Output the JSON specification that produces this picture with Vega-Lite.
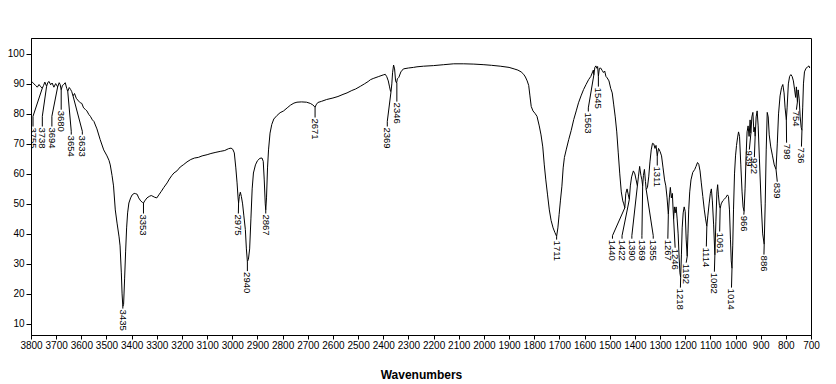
{
"$schema": "https://vega.github.io/schema/vega-lite/v6.json",
"autosize": {"type": "none"},
"width": 780, "height": 297,
"padding": {"left": 31, "top": 38, "right": 25, "bottom": 49},
"background": "white",
"config": {"view": {"stroke": "black", "strokeWidth": 1},
 "axis": {"grid": false, "labelFont": "Liberation Sans", "labelFontSize": 10, "labelColor": "black", "labelFlush": false, "labelOverlap": false, "tickColor": "black", "domainColor": "black", "format": "d"},
 "axisX": {"labelPadding": 1, "tickSize": 4, "titleFont": "Liberation Sans", "titleFontSize": 12, "titleFontWeight": "bold", "titleColor": "black", "titlePadding": 19},
 "axisY": {"labelPadding": 2, "tickSize": 5}},
"datasets": {
"spectrum": [
{"w":3800,"t":90.3},{"w":3795,"t":90.6},{"w":3788,"t":90},{"w":3782,"t":89.5},{"w":3775,"t":88.9},{"w":3768,"t":89.8},{"w":3762,"t":89.1},{"w":3755,"t":88.6},{"w":3750,"t":89.5},{"w":3745,"t":90.6},{"w":3738,"t":89.2},{"w":3733,"t":90.5},{"w":3728,"t":90.8},{"w":3722,"t":89.7},{"w":3716,"t":90.3},{"w":3709,"t":88.9},{"w":3702,"t":90.1},{"w":3694,"t":89},{"w":3688,"t":90.4},{"w":3684,"t":89.8},{"w":3680,"t":88},{"w":3675,"t":89.5},{"w":3670,"t":89.8},{"w":3664,"t":90.4},{"w":3658,"t":88.5},{"w":3654,"t":87.5},{"w":3648,"t":88.8},{"w":3643,"t":88.2},{"w":3638,"t":87.4},{"w":3633,"t":86},{"w":3627,"t":86.8},{"w":3620,"t":85.2},{"w":3611,"t":84.3},{"w":3604,"t":83.7},{"w":3598,"t":83.5},{"w":3591,"t":82},{"w":3584,"t":81.5},{"w":3578,"t":81},{"w":3570,"t":79.8},{"w":3564,"t":79.2},{"w":3556,"t":78},{"w":3550,"t":77.5},{"w":3538,"t":75},{"w":3525,"t":71.4},{"w":3511,"t":68},{"w":3498,"t":66},{"w":3490,"t":64.5},{"w":3485,"t":63},{"w":3478,"t":59.5},{"w":3472,"t":56},{"w":3465,"t":48},{"w":3458,"t":43.6},{"w":3450,"t":39},{"w":3446,"t":36},{"w":3441,"t":27},{"w":3438,"t":20},{"w":3435,"t":15.8},{"w":3432,"t":16.5},{"w":3428,"t":25},{"w":3424,"t":34},{"w":3420,"t":42},{"w":3416,"t":47},{"w":3411,"t":50.3},{"w":3404,"t":52},{"w":3398,"t":53},{"w":3390,"t":53.5},{"w":3384,"t":53.4},{"w":3378,"t":53.2},{"w":3372,"t":52},{"w":3364,"t":51},{"w":3357,"t":50.5},{"w":3353,"t":50.3},{"w":3348,"t":51},{"w":3339,"t":52},{"w":3330,"t":52.5},{"w":3322,"t":52.8},{"w":3315,"t":52.5},{"w":3308,"t":52.2},{"w":3300,"t":52},{"w":3292,"t":53},{"w":3282,"t":54.2},{"w":3272,"t":55.5},{"w":3259,"t":57},{"w":3250,"t":58.3},{"w":3240,"t":59.5},{"w":3232,"t":60.3},{"w":3220,"t":61},{"w":3207,"t":62.3},{"w":3195,"t":63},{"w":3180,"t":64},{"w":3165,"t":64.8},{"w":3150,"t":65.3},{"w":3135,"t":65.5},{"w":3120,"t":66},{"w":3100,"t":66.4},{"w":3085,"t":66.8},{"w":3065,"t":67.2},{"w":3048,"t":67.5},{"w":3030,"t":67.8},{"w":3015,"t":68.4},{"w":3005,"t":68.6},{"w":2998,"t":68.2},{"w":2992,"t":67},{"w":2986,"t":62},{"w":2981,"t":57},{"w":2977,"t":52},{"w":2975,"t":50.3},{"w":2972,"t":52.5},{"w":2968,"t":53.9},{"w":2964,"t":52.5},{"w":2959,"t":50},{"w":2954,"t":46},{"w":2948,"t":41.4},{"w":2944,"t":35},{"w":2940,"t":30.8},{"w":2936,"t":31.5},{"w":2931,"t":35},{"w":2926,"t":45},{"w":2921,"t":55},{"w":2916,"t":60.3},{"w":2908,"t":63},{"w":2900,"t":64.4},{"w":2890,"t":65.2},{"w":2882,"t":65.3},{"w":2877,"t":64.2},{"w":2873,"t":58},{"w":2869,"t":50},{"w":2867,"t":48},{"w":2864,"t":52},{"w":2860,"t":62},{"w":2856,"t":68},{"w":2850,"t":73.6},{"w":2843,"t":76.5},{"w":2835,"t":78.3},{"w":2822,"t":79.5},{"w":2810,"t":80.4},{"w":2796,"t":81},{"w":2782,"t":82},{"w":2769,"t":82.9},{"w":2755,"t":83.6},{"w":2743,"t":83.9},{"w":2725,"t":84},{"w":2705,"t":83.9},{"w":2690,"t":83.5},{"w":2680,"t":83},{"w":2675,"t":82.6},{"w":2671,"t":82.2},{"w":2667,"t":83},{"w":2660,"t":83.8},{"w":2645,"t":84.2},{"w":2625,"t":84.8},{"w":2600,"t":85.3},{"w":2580,"t":85.8},{"w":2560,"t":86.5},{"w":2544,"t":87},{"w":2525,"t":87.8},{"w":2510,"t":88.3},{"w":2491,"t":89.2},{"w":2475,"t":90},{"w":2460,"t":90.8},{"w":2451,"t":91.4},{"w":2440,"t":91.8},{"w":2420,"t":92.4},{"w":2400,"t":93},{"w":2392,"t":93.2},{"w":2386,"t":92.4},{"w":2380,"t":91},{"w":2375,"t":89},{"w":2371,"t":87.5},{"w":2369,"t":87.5},{"w":2366,"t":90},{"w":2363,"t":93.7},{"w":2359,"t":96.3},{"w":2355,"t":95},{"w":2351,"t":91},{"w":2347,"t":90.3},{"w":2344,"t":91.7},{"w":2338,"t":92.2},{"w":2330,"t":94},{"w":2320,"t":95},{"w":2300,"t":95.3},{"w":2280,"t":95.5},{"w":2266,"t":95.7},{"w":2240,"t":95.9},{"w":2200,"t":96.1},{"w":2160,"t":96.4},{"w":2120,"t":96.7},{"w":2080,"t":96.7},{"w":2040,"t":96.6},{"w":2000,"t":96.4},{"w":1970,"t":96.2},{"w":1935,"t":95.9},{"w":1900,"t":95.5},{"w":1880,"t":95},{"w":1865,"t":94.6},{"w":1852,"t":94},{"w":1842,"t":93.2},{"w":1835,"t":92.3},{"w":1828,"t":91},{"w":1822,"t":89.5},{"w":1817,"t":86},{"w":1812,"t":82.5},{"w":1805,"t":81},{"w":1797,"t":80.2},{"w":1789,"t":79.2},{"w":1780,"t":76},{"w":1773,"t":73},{"w":1766,"t":69},{"w":1760,"t":63},{"w":1754,"t":58},{"w":1747,"t":53},{"w":1740,"t":48},{"w":1733,"t":44.5},{"w":1725,"t":42},{"w":1718,"t":40.5},{"w":1711,"t":39.2},{"w":1706,"t":42},{"w":1701,"t":46.5},{"w":1696,"t":51},{"w":1690,"t":55.9},{"w":1685,"t":62},{"w":1680,"t":65.5},{"w":1673,"t":68},{"w":1663,"t":71.4},{"w":1653,"t":74.5},{"w":1643,"t":78.1},{"w":1633,"t":81},{"w":1624,"t":83.7},{"w":1614,"t":86},{"w":1604,"t":88.1},{"w":1594,"t":89.8},{"w":1584,"t":91.4},{"w":1575,"t":92.5},{"w":1568,"t":94},{"w":1565,"t":94.6},{"w":1563,"t":93},{"w":1559,"t":95.5},{"w":1555,"t":96},{"w":1551,"t":95.2},{"w":1548,"t":95.8},{"w":1545,"t":92.5},{"w":1541,"t":95.2},{"w":1536,"t":95.3},{"w":1530,"t":94.5},{"w":1525,"t":93.8},{"w":1520,"t":94.3},{"w":1515,"t":92.5},{"w":1510,"t":92},{"w":1503,"t":91},{"w":1496,"t":88.5},{"w":1490,"t":87},{"w":1484,"t":83},{"w":1478,"t":79},{"w":1472,"t":74},{"w":1466,"t":67},{"w":1460,"t":60},{"w":1454,"t":54},{"w":1448,"t":51},{"w":1444,"t":50},{"w":1440,"t":48.7},{"w":1436,"t":53.5},{"w":1431,"t":55},{"w":1426,"t":53},{"w":1422,"t":51.5},{"w":1418,"t":56},{"w":1413,"t":59},{"w":1406,"t":61},{"w":1400,"t":60},{"w":1395,"t":58},{"w":1390,"t":56},{"w":1386,"t":59},{"w":1381,"t":62.5},{"w":1376,"t":59.5},{"w":1372,"t":58},{"w":1369,"t":56},{"w":1366,"t":59.5},{"w":1362,"t":61.5},{"w":1358,"t":57.5},{"w":1355,"t":54.8},{"w":1350,"t":55.5},{"w":1345,"t":59},{"w":1340,"t":64},{"w":1335,"t":68},{"w":1330,"t":70.2},{"w":1325,"t":70},{"w":1320,"t":68.5},{"w":1316,"t":69.5},{"w":1311,"t":66},{"w":1306,"t":68.5},{"w":1300,"t":67.5},{"w":1294,"t":66},{"w":1288,"t":62},{"w":1282,"t":58},{"w":1277,"t":56},{"w":1272,"t":52},{"w":1267,"t":46.5},{"w":1263,"t":52},{"w":1259,"t":55.5},{"w":1255,"t":52},{"w":1251,"t":53.5},{"w":1248,"t":48},{"w":1246,"t":45},{"w":1243,"t":49},{"w":1240,"t":47},{"w":1236,"t":49},{"w":1232,"t":45},{"w":1228,"t":40},{"w":1224,"t":32},{"w":1221,"t":27},{"w":1218,"t":25.5},{"w":1215,"t":33},{"w":1212,"t":42},{"w":1208,"t":47},{"w":1204,"t":49},{"w":1200,"t":47.5},{"w":1196,"t":38},{"w":1192,"t":32.5},{"w":1189,"t":40},{"w":1186,"t":48},{"w":1182,"t":54},{"w":1177,"t":58},{"w":1170,"t":60.5},{"w":1162,"t":61.5},{"w":1157,"t":62.5},{"w":1151,"t":63.8},{"w":1146,"t":63.2},{"w":1141,"t":61},{"w":1136,"t":57},{"w":1130,"t":52.5},{"w":1124,"t":48},{"w":1119,"t":45},{"w":1114,"t":42.5},{"w":1110,"t":46},{"w":1105,"t":50},{"w":1100,"t":53.5},{"w":1096,"t":55},{"w":1092,"t":51},{"w":1087,"t":43},{"w":1082,"t":33},{"w":1078,"t":44},{"w":1074,"t":54},{"w":1071,"t":56.4},{"w":1068,"t":53},{"w":1064,"t":49.5},{"w":1061,"t":48.5},{"w":1057,"t":50},{"w":1051,"t":51},{"w":1045,"t":51.5},{"w":1038,"t":52.2},{"w":1032,"t":53},{"w":1028,"t":52.5},{"w":1024,"t":48},{"w":1020,"t":38},{"w":1017,"t":31},{"w":1014,"t":28.5},{"w":1011,"t":36},{"w":1008,"t":48},{"w":1004,"t":60},{"w":1000,"t":66},{"w":996,"t":69.5},{"w":992,"t":72},{"w":988,"t":74},{"w":984,"t":72.5},{"w":979,"t":63},{"w":974,"t":54},{"w":970,"t":49},{"w":966,"t":47.5},{"w":962,"t":55},{"w":958,"t":66},{"w":954,"t":74},{"w":950,"t":76},{"w":946,"t":72.5},{"w":942,"t":78},{"w":939,"t":73.5},{"w":935,"t":79},{"w":931,"t":80.5},{"w":927,"t":74},{"w":924,"t":75.5},{"w":922,"t":72.5},{"w":918,"t":79},{"w":914,"t":81},{"w":910,"t":76},{"w":905,"t":65},{"w":898,"t":50},{"w":892,"t":40},{"w":886,"t":36.5},{"w":882,"t":50},{"w":878,"t":68},{"w":874,"t":80.5},{"w":870,"t":79},{"w":866,"t":73},{"w":860,"t":69},{"w":853,"t":66},{"w":846,"t":63},{"w":839,"t":61.5},{"w":834,"t":70},{"w":829,"t":80},{"w":823,"t":86},{"w":817,"t":88.8},{"w":812,"t":89.8},{"w":807,"t":87},{"w":803,"t":82},{"w":798,"t":78},{"w":795,"t":82},{"w":790,"t":90},{"w":785,"t":92.5},{"w":780,"t":93.1},{"w":775,"t":92.5},{"w":770,"t":91},{"w":765,"t":88},{"w":761,"t":85.5},{"w":758,"t":89},{"w":754,"t":84},{"w":751,"t":88},{"w":747,"t":85},{"w":743,"t":79},{"w":739,"t":75.5},{"w":736,"t":74.5},{"w":733,"t":82},{"w":730,"t":90},{"w":726,"t":94},{"w":720,"t":95.2},{"w":714,"t":95.6},{"w":708,"t":96},{"w":705,"t":95.3}
],
"peaks": [
{"label":"3755","pw":3755,"pt":88.6,"lw":3792,"lm":79.2,"lt":75.8},
{"label":"3738","pw":3738,"pt":89.2,"lw":3755,"lm":79.2,"lt":75.8},
{"label":"3694","pw":3694,"pt":89,"lw":3717,"lm":79.2,"lt":75.8},
{"label":"3680","pw":3680,"pt":88,"lw":3680,"lm":81.4,"lt":81.4},
{"label":"3654","pw":3654,"pt":87.5,"lw":3640,"lm":74.2,"lt":73.1},
{"label":"3633","pw":3633,"pt":86,"lw":3596,"lm":74.2,"lt":73.1},
{"label":"3435","pw":3435,"pt":15.8,"lw":3435,"lm":15.1,"lt":15.1},
{"label":"3353","pw":3353,"pt":50.3,"lw":3353,"lm":46.8,"lt":46.8},
{"label":"2975","pw":2975,"pt":50.3,"lw":2976,"lm":46.8,"lt":46.8},
{"label":"2940","pw":2940,"pt":30.8,"lw":2940,"lm":27.6,"lt":27.6},
{"label":"2867","pw":2867,"pt":48,"lw":2867,"lm":46.8,"lt":46.8},
{"label":"2671","pw":2671,"pt":82.2,"lw":2671,"lm":78.8,"lt":78.8},
{"label":"2369","pw":2369,"pt":87.5,"lw":2384,"lm":77.5,"lt":75.8},
{"label":"2346","pw":2346,"pt":90.3,"lw":2346,"lm":84.1,"lt":84.1},
{"label":"1711","pw":1711,"pt":39.2,"lw":1711,"lm":38.1,"lt":38.1},
{"label":"1563","pw":1563,"pt":93,"lw":1585,"lm":82,"lt":80.8},
{"label":"1545","pw":1545,"pt":92.5,"lw":1545,"lm":89.1,"lt":89.1},
{"label":"1440","pw":1440,"pt":48.7,"lw":1489,"lm":39.4,"lt":38.4},
{"label":"1422","pw":1422,"pt":51.5,"lw":1451,"lm":39.4,"lt":38.4},
{"label":"1390","pw":1390,"pt":56,"lw":1412,"lm":39.4,"lt":38.4},
{"label":"1369","pw":1369,"pt":56,"lw":1372,"lm":39.4,"lt":38.4},
{"label":"1355","pw":1355,"pt":54.8,"lw":1327,"lm":39.4,"lt":38.4},
{"label":"1311","pw":1311,"pt":66,"lw":1311,"lm":62.8,"lt":62.8},
{"label":"1267","pw":1267,"pt":46.5,"lw":1269,"lm":38.4,"lt":38.4},
{"label":"1246","pw":1246,"pt":45,"lw":1240,"lm":35.4,"lt":35.4},
{"label":"1218","pw":1218,"pt":25.5,"lw":1219,"lm":22.1,"lt":22.1},
{"label":"1192","pw":1192,"pt":32.5,"lw":1196,"lm":30.4,"lt":30.4},
{"label":"1114","pw":1114,"pt":42.5,"lw":1116,"lm":35.8,"lt":35.8},
{"label":"1082","pw":1082,"pt":33,"lw":1084,"lm":27.4,"lt":27.4},
{"label":"1061","pw":1061,"pt":48.5,"lw":1063,"lm":40.8,"lt":40.8},
{"label":"1014","pw":1014,"pt":28.5,"lw":1016,"lm":22.1,"lt":22.1},
{"label":"966","pw":966,"pt":47.5,"lw":967,"lm":46.4,"lt":46.4},
{"label":"939","pw":939,"pt":73.5,"lw":945,"lm":68.1,"lt":68.1},
{"label":"922","pw":922,"pt":72.5,"lw":925,"lm":65.6,"lt":65.6},
{"label":"886","pw":886,"pt":36.5,"lw":887,"lm":33.1,"lt":33.1},
{"label":"839","pw":839,"pt":61.5,"lw":834,"lm":57.4,"lt":57.4},
{"label":"798","pw":798,"pt":78,"lw":797,"lm":70.4,"lt":70.4},
{"label":"754","pw":754,"pt":84,"lw":758,"lm":81.4,"lt":81.4},
{"label":"736","pw":736,"pt":74.5,"lw":738,"lm":69.1,"lt":69.1}
]
},
"layer": [
{"data": {"name": "spectrum"},
 "mark": {"type": "line", "color": "black", "strokeWidth": 1, "clip": true},
 "encoding": {
  "x": {"field": "w", "type": "quantitative",
        "scale": {"domain": [700, 3800], "reverse": true, "nice": false, "zero": false},
        "axis": {"title": "Wavenumbers", "values": [3800,3700,3600,3500,3400,3300,3200,3100,3000,2900,2800,2700,2600,2500,2400,2300,2200,2100,2000,1900,1800,1700,1600,1500,1400,1300,1200,1100,1000,900,800,700]}},
  "y": {"field": "t", "type": "quantitative",
        "scale": {"domain": [6.3, 105.3], "nice": false, "zero": false},
        "axis": {"title": null, "values": [10,20,30,40,50,60,70,80,90,100]}}
 }},
{"data": {"name": "peaks"},
 "mark": {"type": "rule", "color": "black", "strokeWidth": 1, "clip": true},
 "encoding": {
  "x": {"field": "pw", "type": "quantitative", "scale": {"domain": [700, 3800], "reverse": true, "nice": false, "zero": false},
        "axis": {"title": "Wavenumbers", "values": [3800,3700,3600,3500,3400,3300,3200,3100,3000,2900,2800,2700,2600,2500,2400,2300,2200,2100,2000,1900,1800,1700,1600,1500,1400,1300,1200,1100,1000,900,800,700]}},
  "y": {"field": "pt", "type": "quantitative", "scale": {"domain": [6.3, 105.3], "nice": false, "zero": false},
        "axis": {"title": null, "values": [10,20,30,40,50,60,70,80,90,100]}},
  "x2": {"field": "lw"},
  "y2": {"field": "lm"}
 }},
{"data": {"name": "peaks"},
 "mark": {"type": "rule", "color": "black", "strokeWidth": 1, "clip": true},
 "encoding": {
  "x": {"field": "lw", "type": "quantitative", "scale": {"domain": [700, 3800], "reverse": true, "nice": false, "zero": false},
        "axis": {"title": "Wavenumbers", "values": [3800,3700,3600,3500,3400,3300,3200,3100,3000,2900,2800,2700,2600,2500,2400,2300,2200,2100,2000,1900,1800,1700,1600,1500,1400,1300,1200,1100,1000,900,800,700]}},
  "y": {"field": "lm", "type": "quantitative", "scale": {"domain": [6.3, 105.3], "nice": false, "zero": false},
        "axis": {"title": null, "values": [10,20,30,40,50,60,70,80,90,100]}},
  "y2": {"field": "lt"}
 }},
{"data": {"name": "peaks"},
 "mark": {"type": "text", "angle": 90, "align": "left", "baseline": "middle", "dx": 1, "font": "Liberation Sans", "fontSize": 9.5, "color": "black", "clip": true},
 "encoding": {
  "x": {"field": "lw", "type": "quantitative", "scale": {"domain": [700, 3800], "reverse": true, "nice": false, "zero": false},
        "axis": {"title": "Wavenumbers", "values": [3800,3700,3600,3500,3400,3300,3200,3100,3000,2900,2800,2700,2600,2500,2400,2300,2200,2100,2000,1900,1800,1700,1600,1500,1400,1300,1200,1100,1000,900,800,700]}},
  "y": {"field": "lt", "type": "quantitative", "scale": {"domain": [6.3, 105.3], "nice": false, "zero": false},
        "axis": {"title": null, "values": [10,20,30,40,50,60,70,80,90,100]}},
  "text": {"field": "label"}
 }}
]
}
